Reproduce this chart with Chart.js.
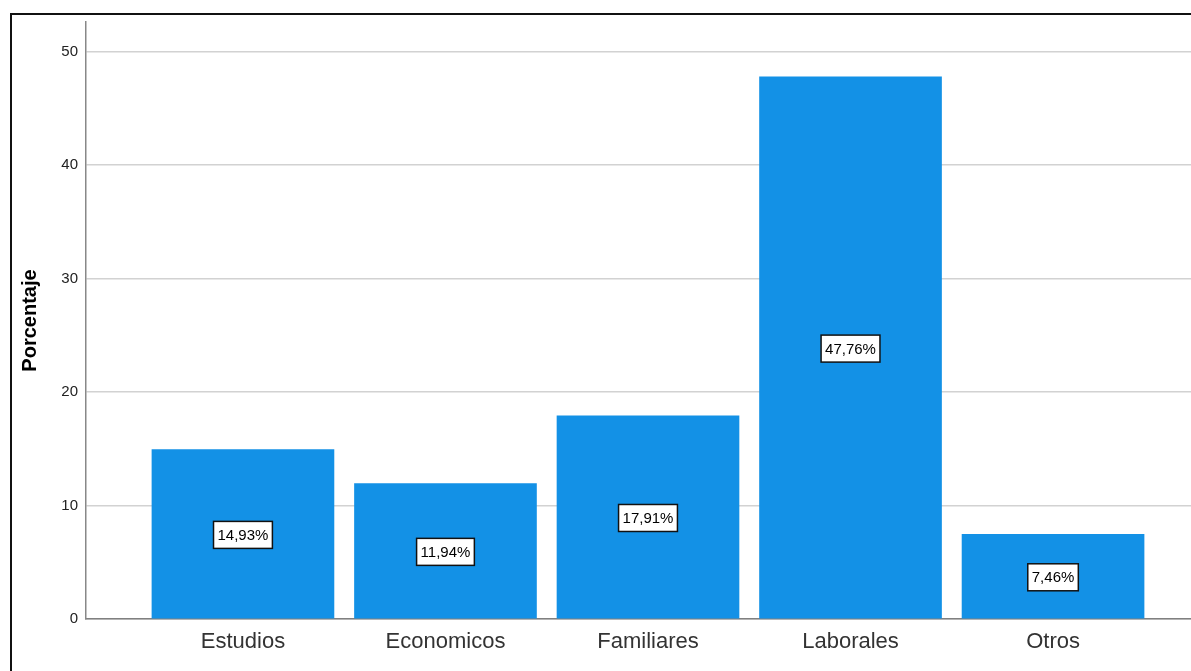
<!DOCTYPE html>
<html>
<head>
<meta charset="utf-8">
<script src="https://cdn.jsdelivr.net/npm/chart.js@4/dist/chart.umd.min.js"></script>
<style>
  html, body { margin: 0; padding: 0; background: #fff; overflow: hidden; }
  #wrap { position: relative; width: 1191px; height: 671px; overflow: hidden; }
  #frame {
    position: absolute; left: 10px; top: 13px; right: -20px; bottom: -20px;
    border-left: 2px solid #111; border-top: 2px solid #111;
    pointer-events: none;
  }
  #myChart { position: absolute; left: 0; top: 0; }
</style>
</head>
<body>
<div id="wrap">
  <canvas id="myChart" width="1210" height="671"></canvas>
  <div id="frame"></div>
</div>
<script>
const categories = ["Estudios", "Economicos", "Familiares", "Laborales", "Otros"];
const percentages = [14.93, 11.94, 17.91, 47.76, 7.46];
const yTicks = [0, 10, 20, 30, 40, 50];

// etiqueta blanca con borde en el centro de cada barra
const boxLabels = {
  id: "boxLabels",
  afterDatasetsDraw(chart) {
    const ctx = chart.ctx;
    const meta = chart.getDatasetMeta(0);
    ctx.save();
    ctx.font = "15px 'Liberation Sans', Arial, sans-serif";
    ctx.textAlign = "center";
    ctx.textBaseline = "middle";
    meta.data.forEach((bar, i) => {
      const text = percentages[i].toFixed(2).replace(".", ",") + "%";
      const w = ctx.measureText(text).width + 8;
      const h = 27;
      const cx = bar.x;
      const cy = (bar.y + bar.base) / 2 + 1;
      ctx.fillStyle = "#fff";
      ctx.fillRect(cx - w / 2, cy - h / 2, w, h);
      ctx.lineWidth = 1.5;
      ctx.strokeStyle = "#111";
      ctx.strokeRect(cx - w / 2, cy - h / 2, w, h);
      ctx.fillStyle = "#000";
      ctx.fillText(text, cx, cy + 1);
    });
    ctx.restore();
  },
};

const ctx = document.getElementById("myChart").getContext("2d");
const myChart = new Chart(ctx, {
  type: "bar",
  data: {
    datasets: [
      {
        data: percentages.map((v, i) => ({ x: i, y: v })),
        backgroundColor: "#1391e6",
        borderWidth: 0,
        barThickness: 182,
      },
    ],
  },
  options: {
    responsive: false,
    animation: false,
    layout: { padding: { top: 22, left: 0, right: 0, bottom: 0 } },
    scales: {
      x: {
        type: "linear",
        offset: false,
        min: -0.775,
        max: 4.775,
        afterBuildTicks: (scale) => {
          scale.ticks = categories.map((c, i) => ({ value: i }));
        },
        afterFit: (scale) => {
          scale.height = 52;
        },
        ticks: {
          callback: (value) => categories[value],
          color: "#333",
          padding: 10,
          maxRotation: 0,
          autoSkip: false,
          font: { family: "'Liberation Sans', Arial, sans-serif", size: 22 },
        },
        grid: { display: false, drawTicks: false, offset: false },
        border: { display: true, color: "#808080", width: 1.5 },
      },
      y: {
        min: 0,
        max: 52.6,
        afterBuildTicks: (scale) => {
          scale.ticks = yTicks.map((v) => ({ value: v }));
        },
        afterFit: (scale) => {
          scale.width = 86;
        },
        ticks: {
          color: "#222",
          padding: 8,
          font: { family: "'Liberation Sans', Arial, sans-serif", size: 15 },
        },
        grid: { color: "#d2d2d2", lineWidth: 1.5, drawTicks: false },
        border: { display: true, color: "#888", width: 1.5 },
        title: {
          display: true,
          text: "Porcentaje",
          color: "#000",
          padding: { top: 18 },
          font: { family: "'Liberation Sans', Arial, sans-serif", size: 20, weight: "bold" },
        },
      },
    },
    plugins: {
      legend: { display: false },
      tooltip: { enabled: false },
    },
  },
  plugins: [boxLabels],
});
</script>
</body>
</html>
